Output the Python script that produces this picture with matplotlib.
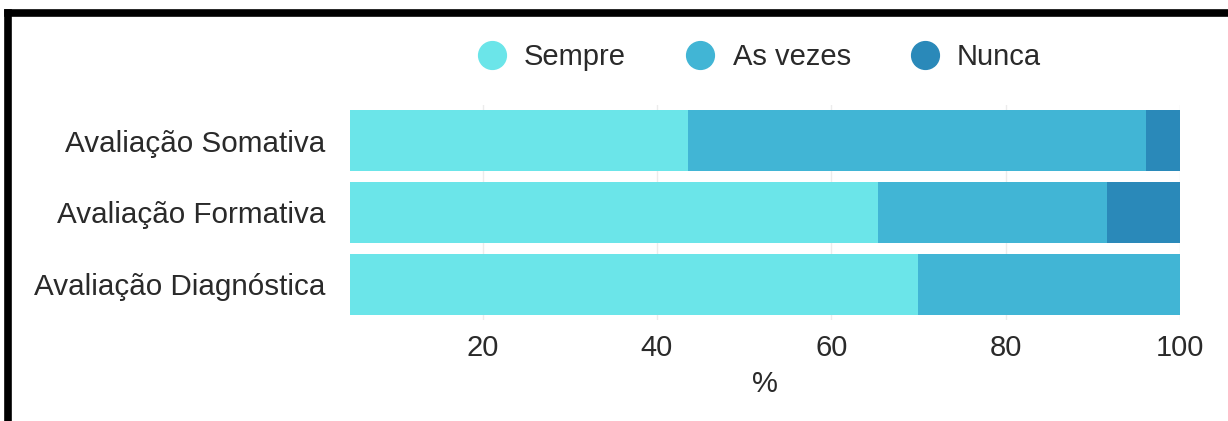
import matplotlib.pyplot as plt
from matplotlib.lines import Line2D
import numpy as np

# Data
categories = ['Avaliação Somativa', 'Avaliação Formativa', 'Avaliação Diagnóstica']
sempre = [43.6, 65.4, 69.9]
as_vezes = [52.5, 26.2, 30.1]
nunca = [3.9, 8.4, 0.0]
series_names = ['Sempre', 'As vezes', 'Nunca']
colors = ['#6be5e9', '#41b5d5', '#2a89b9']
xticks = [20, 40, 60, 80, 100]

plt.rcParams['font.family'] = ['Liberation Sans', 'DejaVu Sans']
txt = '#2a2a2a'

fig = plt.figure(figsize=(12.28, 4.21), dpi=100)
ax = fig.add_axes([0.285, 0.240, 0.676, 0.511])

y = np.arange(len(categories))
left = np.zeros(len(categories))
for vals, name, c in zip([sempre, as_vezes, nunca], series_names, colors):
    ax.barh(y, vals, left=left, height=0.85, color=c, label=name, zorder=2)
    left = left + np.array(vals)

ax.set_xlim(4.8, 100)
ax.set_ylim(2.5, -0.5)
ax.set_yticks(y)
ax.set_yticklabels(categories, fontsize=21.3, color=txt)
ax.set_xticks(xticks)
ax.set_xticklabels([str(t) for t in xticks], fontsize=21, color=txt)
ax.tick_params(axis='y', length=0, pad=18)
ax.tick_params(axis='x', length=0, pad=10)
ax.set_xlabel('%', fontsize=21, color=txt, labelpad=6)
ax.grid(axis='x', color='#ececec', linewidth=1, zorder=0)
for s in ax.spines.values():
    s.set_visible(False)

# legend with round markers
handles = [Line2D([0], [0], marker='o', linestyle='', markersize=20,
                  markerfacecolor=c, markeredgecolor=c) for c in colors]
leg = fig.legend(handles, series_names, loc='center', ncol=3,
                 bbox_to_anchor=(752 / 1228, 0.865), frameon=False, fontsize=21,
                 handletextpad=0.1, columnspacing=1.55)
for t in leg.get_texts():
    t.set_color(txt)

# black frame (top and left edges of screenshot)
fig.add_artist(Line2D([8 / 1228, 8 / 1228], [0, 1 - 13 / 421], transform=fig.transFigure,
                      color='black', linewidth=5.5, solid_capstyle='projecting'))
fig.add_artist(Line2D([8 / 1228, 1], [1 - 13 / 421, 1 - 13 / 421], transform=fig.transFigure,
                      color='black', linewidth=5.5, solid_capstyle='projecting'))

fig.savefig('out.png', dpi=100)
